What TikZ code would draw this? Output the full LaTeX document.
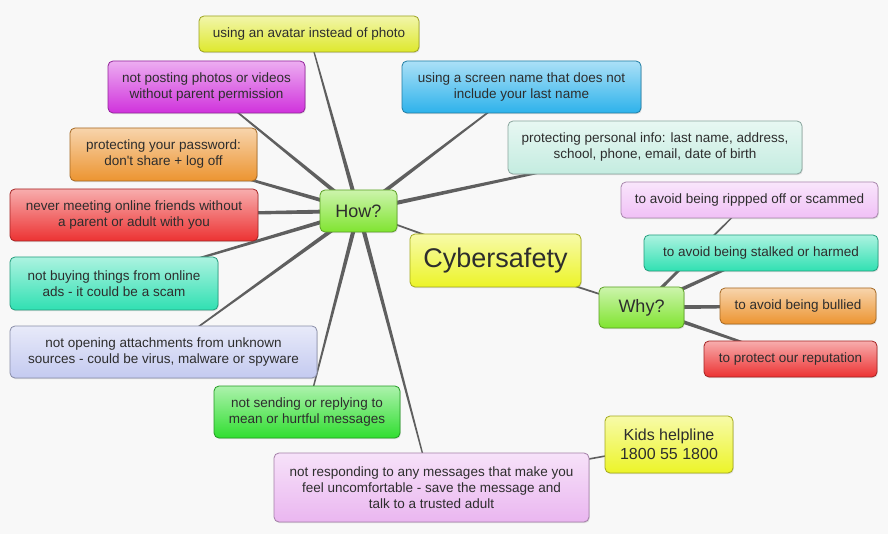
\documentclass[tikz,border=0pt]{standalone}
\usepackage{fontspec}
\setmainfont{Liberation Sans}
\usetikzlibrary{calc,shadows}
\pgfdeclarelayer{paper}
\pgfdeclarelayer{links}
\pgfsetlayers{paper,links,main}

\definecolor{txt}{RGB}{45,45,45}
\definecolor{linkgray}{RGB}{95,95,95}
\definecolor{paperbg}{RGB}{248,248,248}
\definecolor{cYel}{RGB}{222,232,45}
\definecolor{cLemon}{RGB}{236,244,40}
\definecolor{cMag}{RGB}{208,50,220}
\definecolor{cBlue}{RGB}{45,178,235}
\definecolor{cOrg}{RGB}{236,148,48}
\definecolor{cRed}{RGB}{236,50,50}
\definecolor{cTeal}{RGB}{48,224,178}
\definecolor{cLav}{RGB}{196,202,240}
\definecolor{cGrn}{RGB}{48,222,48}
\definecolor{cPink}{RGB}{234,182,240}
\definecolor{cMint}{RGB}{196,236,224}
\definecolor{cRose}{RGB}{240,192,246}
\definecolor{cLime}{RGB}{128,228,48}

% tapered branch from node #1 (width #3) to node #2 (width #4)
\newcommand{\limb}[4]{\fill[linkgray] ($(#1)!#3!90:(#2)$) -- ($(#1)!#3!-90:(#2)$) -- ($(#2)!#4!90:(#1)$) -- ($(#2)!#4!-90:(#1)$) -- cycle;}

\begin{document}
\begin{tikzpicture}[x=1pt,y=-1pt,
  idea/.style={draw=#1!70!black,line width=0.8pt,rounded corners=5pt,
    top color=#1!40!white,bottom color=#1,text=txt,align=center,
    font=\fontsize{13.5}{16}\selectfont,inner sep=2pt,
    drop shadow={shadow xshift=0.8pt,shadow yshift=-1.2pt,opacity=0.22}},
  hub/.style={idea=#1,font=\fontsize{18}{20}\selectfont}]
\useasboundingbox (0,0) rectangle (888,534);
\begin{pgfonlayer}{paper}
\fill[paperbg] (0,0) rectangle (888,534);
\end{pgfonlayer}

\node[hub=cLemon,minimum width=171,minimum height=53,font=\fontsize{27}{30}\selectfont] (cs) at (495.5,260.5) {Cybersafety};
\node[hub=cLime,minimum width=77,minimum height=42] (how) at (358.5,211) {How?};
\node[hub=cLime,minimum width=85,minimum height=41] (why) at (641.5,307.5) {Why?};

\node[idea=cYel,minimum width=220,minimum height=36] (h1) at (309,34) {using an avatar instead of photo};
\node[idea=cMag,minimum width=197,minimum height=52] (h2) at (206.5,87) {not posting photos or videos\\without parent permission};
\node[idea=cOrg,minimum width=187,minimum height=53] (h3) at (163.5,154.5) {protecting your password:\\don\textquotesingle t share + log off};
\node[idea=cRed,minimum width=248,minimum height=52] (h4) at (134,215) {never meeting online friends without\\a parent or adult with you};
\node[idea=cTeal,minimum width=208,minimum height=53] (h5) at (114,283.5) {not buying things from online\\ads - it could be a scam};
\node[idea=cLav,minimum width=307,minimum height=52] (h6) at (163.5,352) {not opening attachments from unknown\\sources - could be virus, malware or spyware};
\node[idea=cGrn,minimum width=186,minimum height=52] (h7) at (307,412) {not sending or replying to\\mean or hurtful messages};
\node[idea=cPink,minimum width=315,minimum height=69] (h8) at (431.5,487.5) {not responding to any messages that make you\\feel uncomfortable - save the message and\\talk to a trusted adult};
\node[idea=cBlue,minimum width=239,minimum height=52] (h9) at (521.5,87) {using a screen name that does not\\include your last name};
\node[idea=cMint,minimum width=294,minimum height=53] (h10) at (655,147.5) {protecting personal info: last name, address,\\school, phone, email, date of birth};
\node[idea=cLemon,minimum width=128,minimum height=57,font=\fontsize{16}{19}\selectfont] (kh) at (669,444.5) {Kids helpline\\1800 55 1800};

\node[idea=cRose,minimum width=257,minimum height=36] (w1) at (749.5,200) {to avoid being rippped off or scammed};
\node[idea=cTeal,minimum width=234,minimum height=36] (w2) at (761,253) {to avoid being stalked or harmed};
\node[idea=cOrg,minimum width=156,minimum height=36] (w3) at (798,306) {to avoid being bullied};
\node[idea=cRed,minimum width=173,minimum height=36] (w4) at (790.5,359) {to protect our reputation};

\begin{pgfonlayer}{links}
\limb{cs}{how}{1pt}{0.8pt}
\limb{cs}{why}{1pt}{0.8pt}
\limb{how}{h1}{2.2pt}{0.5pt}
\limb{how}{h2}{2.2pt}{0.5pt}
\limb{how}{h3}{2.2pt}{0.6pt}
\limb{how}{h4}{2.2pt}{0.9pt}
\limb{how}{h5}{2.2pt}{0.5pt}
\limb{how}{h6}{2.2pt}{0.5pt}
\limb{how}{h7}{2.2pt}{0.5pt}
\limb{how}{h8}{2.2pt}{0.5pt}
\limb{how}{h9}{2.2pt}{0.5pt}
\limb{how}{h10}{2.2pt}{0.7pt}
\limb{h8}{kh}{0.8pt}{0.8pt}
\limb{why}{w1}{1.8pt}{0.5pt}
\limb{why}{w2}{2.2pt}{1pt}
\limb{why}{w3}{2.2pt}{1.2pt}
\limb{why}{w4}{2.2pt}{0.8pt}
\end{pgfonlayer}
\end{tikzpicture}
\end{document}
